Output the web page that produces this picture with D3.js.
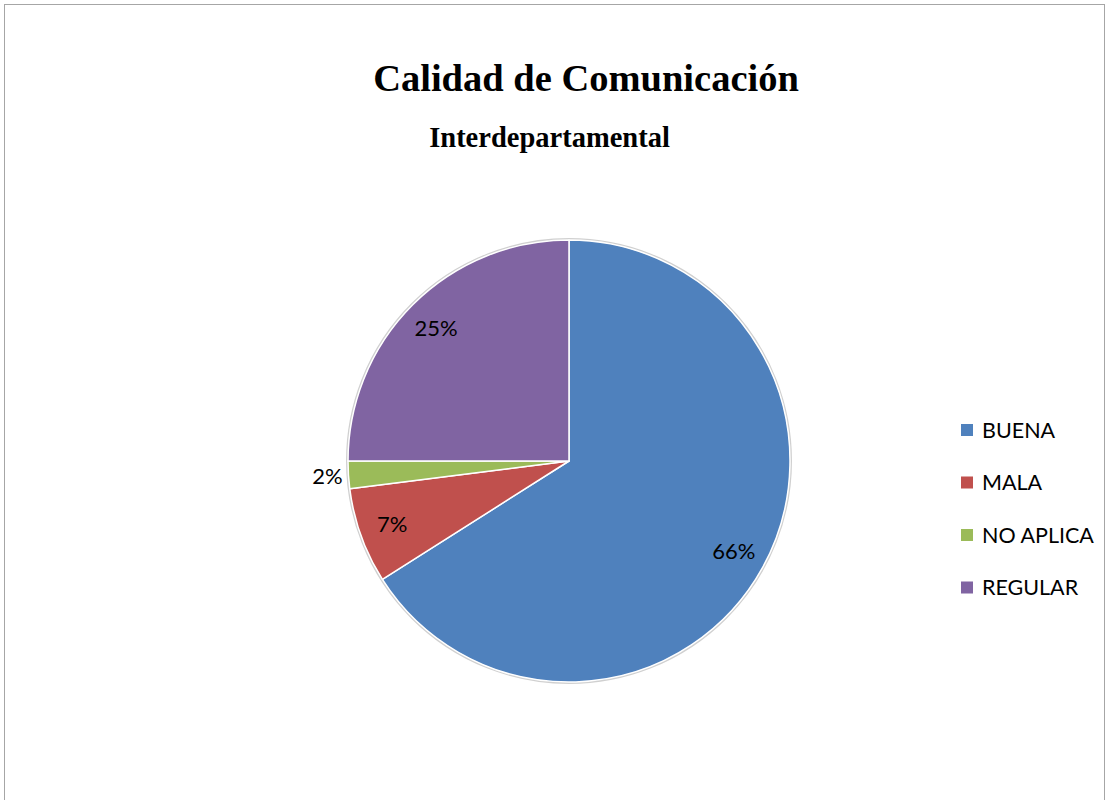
<!DOCTYPE html>
<html><head><meta charset="utf-8">
<script src="https://cdn.jsdelivr.net/npm/d3@7"></script>
<style>body{margin:0;background:#fff}</style>
</head><body>
<svg id="c" width="1110" height="800"></svg>
<script>
const categories = ["BUENA","MALA","NO APLICA","REGULAR"];
const values = [66, 7, 2, 25];
const labels = ["66%","7%","2%","25%"];
const colors = ["#4f81bd","#c0504d","#9bbb59","#8064a2"];
const title = "Calidad de Comunicación";
const subtitle = "Interdepartamental";

const svg = d3.select("#c");
svg.append("rect").attr("x",4.5).attr("y",4.5).attr("width",1100).attr("height",810)
  .attr("fill","#fff").attr("stroke","#a6a6a6").attr("stroke-width",1);

svg.append("text").attr("x",586).attr("y",91).attr("text-anchor","middle")
  .attr("font-family","Liberation Serif, Times New Roman, serif").attr("font-weight","bold")
  .attr("font-size",38.5).attr("fill","#000").text(title);
svg.append("text").attr("x",549.5).attr("y",147).attr("text-anchor","middle")
  .attr("font-family","Liberation Serif, Times New Roman, serif").attr("font-weight","bold")
  .attr("font-size",28.5).attr("fill","#000").text(subtitle);

const cx = 569, cy = 461, R = 221;
const g = svg.append("g").attr("transform",`translate(${cx},${cy})`);
const pie = d3.pie().sort(null).value(d=>d);
const arcs = pie(values);
const arc = d3.arc().innerRadius(0).outerRadius(R);
g.append("circle").attr("r",R+1).attr("fill","none").attr("stroke","#d0d0d0").attr("stroke-width",2);
g.selectAll("path.s").data(arcs).enter().append("path").attr("class","s")
  .attr("d",arc).attr("fill",(d,i)=>colors[i]).attr("stroke","#fff").attr("stroke-width",1.5)
  .attr("stroke-linejoin","round");

const labelArc = d3.arc().innerRadius(188).outerRadius(188);
const outArc = d3.arc().innerRadius(242).outerRadius(242);
g.selectAll("text.l").data(arcs).enter().append("text").attr("class","l")
  .attr("transform",(d,i)=>{const c=(values[i]<5?outArc:labelArc).centroid(d);return `translate(${c[0]},${c[1]})`;})
  .attr("text-anchor","middle").attr("dy","0.35em")
  .attr("font-family","Lato, Noto Sans, sans-serif").attr("font-size",22).attr("fill","#000")
  .text((d,i)=>labels[i]);

const lg = svg.append("g").attr("transform","translate(961,430)");
const rows = lg.selectAll("g").data(categories).enter().append("g")
  .attr("transform",(d,i)=>`translate(0,${i*52.5})`);
rows.append("rect").attr("x",0).attr("y",-6).attr("width",12).attr("height",12).attr("fill",(d,i)=>colors[i]);
rows.append("text").attr("x",21).attr("y",0).attr("dy","0.35em")
  .attr("font-family","Lato, Noto Sans, sans-serif").attr("font-size",21.5).attr("fill","#000").text(d=>d);
</script>
</body></html>
